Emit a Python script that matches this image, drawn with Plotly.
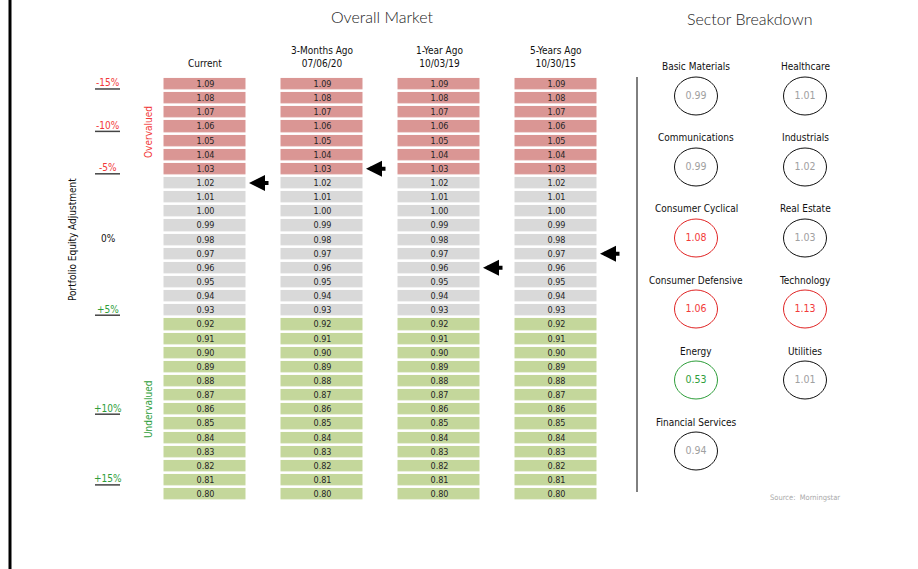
import plotly.graph_objects as go

W, H = 918, 569

# ---------------- data ----------------
rows = [1.09, 1.08, 1.07, 1.06, 1.05, 1.04, 1.03, 1.02, 1.01, 1.00,
        0.99, 0.98, 0.97, 0.96, 0.95, 0.94, 0.93, 0.92, 0.91, 0.90,
        0.89, 0.88, 0.87, 0.86, 0.85, 0.84, 0.83, 0.82, 0.81, 0.80]
zone_code = [2, 2, 2, 2, 2, 2, 2, 1, 1, 1,
             1, 1, 1, 1, 1, 1, 1, 0, 0, 0,
             0, 0, 0, 0, 0, 0, 0, 0, 0, 0]   # 2 over, 1 fair, 0 under
columns = ["Current", "3-Months Ago<br>07/06/20", "1-Year Ago<br>10/03/19", "5-Years Ago<br>10/30/15"]
current_readings = [1.02, 1.03, 0.96, 0.97]

adj_labels = ["-15%", "-10%", "-5%", "0%", "+5%", "+10%", "+15%"]
adj_rows = [1.09, 1.06, 1.03, 0.98, 0.93, 0.86, 0.81]

sectors = ["Basic Materials", "Healthcare", "Communications", "Industrials",
           "Consumer Cyclical", "Real Estate", "Consumer Defensive", "Technology",
           "Energy", "Utilities", "Financial Services"]
sector_values = [0.99, 1.01, 0.99, 1.02, 1.08, 1.03, 1.06, 1.13, 0.53, 1.01, 0.94]
sector_col = [0, 1, 0, 1, 0, 1, 0, 1, 0, 1, 0]
sector_row = [0, 0, 1, 1, 2, 2, 3, 3, 4, 4, 5]

# ---------------- styles ----------------
NARROW = "DejaVu Sans Condensed, Liberation Sans Narrow, sans-serif"
LIGHT = "Lato, Open Sans, sans-serif"
RED_FILL, GRAY_FILL, GREEN_FILL = "#DA9694", "#D9D9D9", "#C4D79B"
RED_TXT, GREEN_TXT = "#F23A3A", "#2E9E3A"


def px(x):
    return x / W


def py(y):
    return 1 - y / H


fig = go.Figure()

# Grid of valuation cells
z = [[zc] * len(columns) for zc in zone_code]
txt = [[f"{r:.2f}"] * len(columns) for r in rows]
fig.add_trace(go.Heatmap(
    x=list(range(len(columns))), y=rows, z=z, text=txt,
    texttemplate="%{text}", textfont=dict(family=NARROW, size=9, color="#262626"),
    colorscale=[[0, GREEN_FILL], [0.5, GRAY_FILL], [1, RED_FILL]],
    zmin=0, zmax=2, showscale=False, xgap=35, ygap=2.6, hoverinfo="skip",
))


def sector_color(v):
    if v > 1.05:
        return RED_TXT, "#E02424"
    if v < 0.9:
        return GREEN_TXT, "#2E9E3A"
    return "#A0A0A0", "#111111"


# Sector value texts
fig.add_trace(go.Scatter(
    x=sector_col, y=sector_row, mode="text",
    text=[f"{v:.2f}" for v in sector_values],
    textfont=dict(family=NARROW, size=10.5, color=[sector_color(v)[0] for v in sector_values]),
    xaxis="x2", yaxis="y2", hoverinfo="skip", cliponaxis=False, showlegend=False,
))

shapes = []
annotations = []

# sector circles and names
for name, v, c, r in zip(sectors, sector_values, sector_col, sector_row):
    shapes.append(dict(type="circle", xref="x2", yref="y2",
                       xsizemode="pixel", ysizemode="pixel", xanchor=c, yanchor=r,
                       x0=-21.5, x1=21.5, y0=-19, y1=19,
                       line=dict(color=sector_color(v)[1], width=1)))
    annotations.append(dict(x=c, y=r, xref="x2", yref="y2", text=name, showarrow=False,
                            xanchor="center", yanchor="middle", yshift=29,
                            font=dict(family=NARROW, size=10, color="#111111")))

# column headers
for i, col in enumerate(columns):
    annotations.append(dict(x=i, xref="x", y=py(71), yref="paper", xanchor="center",
                            yanchor="bottom", text=col, showarrow=False,
                            font=dict(family=NARROW, size=10, color="#111111")))

# arrows marking current reading
for i, val in enumerate(current_readings):
    annotations.append(dict(x=i, y=val, xref="x", yref="y", xshift=44, text="",
                            showarrow=True, ax=21, ay=0, arrowhead=2, arrowsize=0.8,
                            arrowwidth=4, arrowcolor="#000000", standoff=0))

# adjustment labels with underlines
for lab, r in zip(adj_labels, adj_rows):
    color = RED_TXT if lab.startswith("-") else (GREEN_TXT if lab.startswith("+") else "#111111")
    annotations.append(dict(x=px(108), xref="paper", y=r, yref="y", yshift=1, text=lab,
                            xanchor="center", yanchor="middle", showarrow=False,
                            font=dict(family=NARROW, size=10, color=color)))
    if lab != "0%":
        shapes.append(dict(type="line", xref="paper", x0=px(95), x1=px(120),
                           yref="y", ysizemode="pixel", yanchor=r, y0=-5, y1=-5,
                           line=dict(color="#444444", width=1.5)))


def paper_text(x, y, text, size, color, family=NARROW, angle=0, weight=None):
    f = dict(family=family, size=size, color=color)
    if weight:
        f["weight"] = weight
    return dict(x=px(x), y=py(y), xref="paper", yref="paper", text=text, textangle=angle,
                xanchor="center", yanchor="middle", showarrow=False, font=f)


annotations += [
    paper_text(148, 132, "Overvalued", 10, RED_TXT, angle=-90),
    paper_text(148, 409, "Undervalued", 10, GREEN_TXT, angle=-90),
    paper_text(72, 240, "Portfolio Equity Adjustment", 10, "#111111", angle=-90),
    paper_text(382, 16, "Overall Market", 16, "#222222", family=LIGHT, weight=300),
    paper_text(749, 19, "Sector Breakdown", 16, "#222222", family=LIGHT, weight=300),
    paper_text(805, 497, "Source:  Morningstar", 7.5, "#AAAAAA"),
]

# divider and left border
shapes += [
    dict(type="line", xref="paper", yref="paper", x0=px(637), x1=px(637), y0=py(77), y1=py(492),
         line=dict(color="#000000", width=1)),
    dict(type="line", xref="paper", yref="paper", x0=px(10), x1=px(10), y0=0, y1=1,
         line=dict(color="#000000", width=3)),
]

fig.update_layout(
    width=W, height=H, margin=dict(l=0, r=0, t=0, b=0),
    paper_bgcolor="white", plot_bgcolor="white", showlegend=False,
    xaxis=dict(domain=[px(146.5), px(614.5)], range=[-0.5, 3.5], visible=False, fixedrange=True),
    yaxis=dict(domain=[py(501.1), py(76.9)], range=[0.795, 1.095], visible=False, fixedrange=True),
    xaxis2=dict(domain=[px(641.5), px(859.5)], range=[-0.5, 1.5], visible=False, anchor="y2"),
    yaxis2=dict(domain=[py(486.5), py(60.5)], range=[5.5, -0.5], visible=False, anchor="x2"),
    shapes=shapes, annotations=annotations,
)

fig.write_html("out.html")
